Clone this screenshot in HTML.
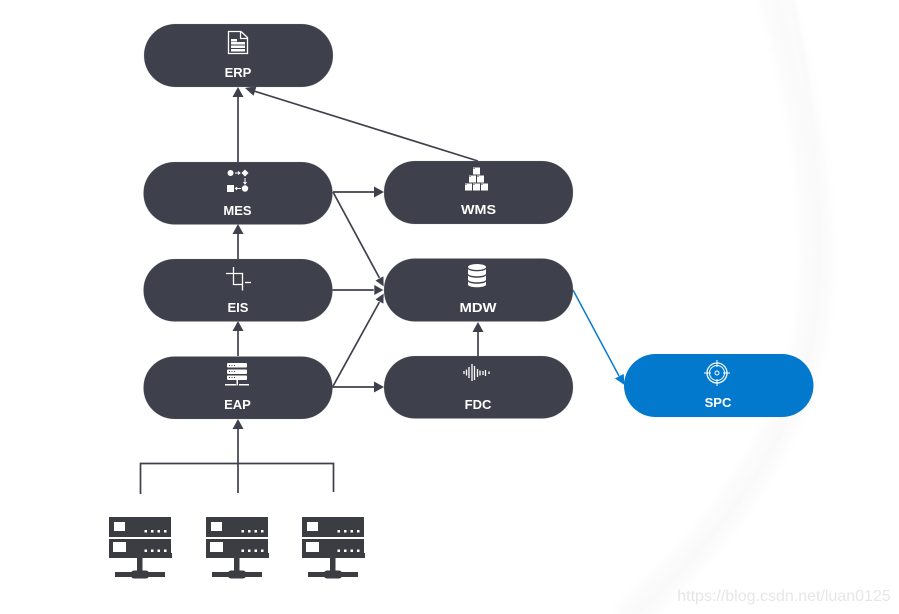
<!DOCTYPE html>
<html>
<head>
<meta charset="utf-8">
<style>
html,body{margin:0;padding:0;background:#fff}
svg{display:block}
text{font-family:"Liberation Sans",sans-serif;font-weight:700;font-size:13px;fill:#fff;text-anchor:middle}
</style>
</head>
<body>
<svg width="899" height="614" viewBox="0 0 899 614" xmlns="http://www.w3.org/2000/svg">
<defs>
<filter id="b" filterUnits="userSpaceOnUse" x="500" y="-50" width="450" height="720"><feGaussianBlur stdDeviation="6"/></filter>
<filter id="b2" filterUnits="userSpaceOnUse" x="500" y="-50" width="450" height="720"><feGaussianBlur stdDeviation="2"/></filter>
<g id="srv">
<rect x="0" y="0" width="62" height="20" fill="#3c3d42"/>
<rect x="0" y="22" width="62" height="19" fill="#3c3d42"/>
<rect x="62" y="36" width="1" height="5" fill="#3c3d42"/>
<rect x="5" y="5" width="11" height="9" fill="#fff"/>
<rect x="4" y="25" width="13" height="10" fill="#fff"/>
<g fill="#fff">
<rect x="35.500" y="13" width="2.500" height="2.500"/><rect x="42" y="13" width="2.500" height="2.500"/><rect x="48.500" y="13" width="2.500" height="2.500"/><rect x="55" y="13" width="2.500" height="2.500"/>
<rect x="35.500" y="32.500" width="2.500" height="2.500"/><rect x="42" y="32.500" width="2.500" height="2.500"/><rect x="48.500" y="32.500" width="2.500" height="2.500"/><rect x="55" y="32.500" width="2.500" height="2.500"/>
</g>
<rect x="28" y="41" width="5.500" height="15" fill="#3c3d42"/>
<rect x="6" y="55" width="50" height="5" fill="#3c3d42"/>
<rect x="22" y="53.500" width="18" height="8" rx="3" fill="#3c3d42"/>
</g>
</defs>

<!-- faint background swoosh -->
<g fill="none" stroke-linecap="butt">
<path d="M773 -10C805 100 822 200 815 300C805 420 730 530 625 620" stroke="#fafafa" stroke-width="28" filter="url(#b)"/>
<path d="M790 -10C815 110 825 210 817 310C806 420 735 525 640 610" stroke="#f8f8f8" stroke-width="3" filter="url(#b2)"/>
</g>

<!-- connectors -->
<g stroke="#3e414b" stroke-width="1.700" fill="none">
<path d="M238 162V96"/>
<path d="M478 161L254 91"/>
<path d="M238 259V233"/>
<path d="M238 356V330"/>
<path d="M238 493V428"/>
<path d="M333 192H376"/>
<path d="M333 192L380 279"/>
<path d="M332 290H376"/>
<path d="M332 388L380 301"/>
<path d="M332 387H376"/>
<path d="M478 356V331"/>
<path d="M140.500 494V463.500H333.500V492"/>
</g>
<g fill="#3e414b">
<path d="M238 87L232.500 97H243.500Z"/>
<path d="M245 88L256.500 86.200L253.500 95.800Z"/>
<path d="M238 224L232.500 234H243.500Z"/>
<path d="M238 321L232.500 331H243.500Z"/>
<path d="M238 419L232.500 429H243.500Z"/>
<path d="M384 192L374 186.500V197.500Z"/>
<path d="M384 290L374 284.500V295.500Z" stroke="#fff" stroke-width=".6"/>
<path d="M384 387L374 381.500V392.500Z"/>
<path d="M384 287L383.700 275.900L374.900 280.500Z" stroke="#fff" stroke-width=".6"/>
<path d="M384 293L383.700 304.100L374.900 299.500Z" stroke="#fff" stroke-width=".6"/>
<path d="M478 322L472.500 332H483.500Z"/>
</g>
<path d="M573 290L619 376" stroke="#0a7bcf" stroke-width="1.500" fill="none"/>
<path d="M624.500 385L623.700 373.900L614.900 378.500Z" fill="#0a7bcf"/>

<!-- pills -->
<g fill="#3e414b" stroke="#9a9ca3" stroke-opacity=".35" stroke-width=".6">
<rect x="144" y="24" width="189" height="63" rx="31.500"/>
<rect x="143.500" y="162" width="189" height="62.500" rx="31"/>
<rect x="143.500" y="259" width="189" height="62.500" rx="31"/>
<rect x="143.500" y="356.500" width="189" height="62.500" rx="31"/>
<rect x="384" y="161" width="189" height="63" rx="31"/>
<rect x="384" y="258.500" width="189" height="63" rx="31"/>
<rect x="384" y="356" width="189" height="62.500" rx="31"/>
</g>
<rect x="624" y="354" width="189.500" height="63" rx="31.500" fill="#0279cd"/>

<text x="238" y="77">ERP</text>
<text x="237.500" y="215">MES</text>
<text x="238" y="312">EIS</text>
<text x="237.500" y="409">EAP</text>
<text x="478.500" y="214" textLength="35" lengthAdjust="spacingAndGlyphs">WMS</text>
<text x="478" y="312" textLength="37" lengthAdjust="spacingAndGlyphs">MDW</text>
<text x="478" y="409">FDC</text>
<text x="718" y="407">SPC</text>

<!-- ERP icon -->
<path d="M228.500 31.500H241L247.500 37.500V53.500H228.500Z" fill="none" stroke="#fff" stroke-width="1.300"/>
<path d="M240.500 32V38.500H247" fill="none" stroke="#fff" stroke-width="1.200"/>
<g fill="#fff"><rect x="231" y="39" width="6" height="2.500"/><rect x="231" y="42" width="14" height="2.500"/><rect x="231" y="45.500" width="14" height="2.500"/><rect x="231" y="49" width="14" height="2.500"/></g>

<!-- MES icon -->
<g fill="#fff">
<circle cx="230.500" cy="173" r="3"/>
<path d="M245 169.500L248.500 173L245 176.500L241.500 173Z"/>
<rect x="227" y="185" width="7" height="7"/>
<circle cx="245" cy="188.500" r="3.200"/>
</g>
<g stroke="#fff" stroke-width="1" fill="none">
<path d="M235 173H240M238 171.500L240 173L238 174.500"/>
<path d="M245 178V184M243.500 182L245 184L246.500 182"/>
<path d="M235.500 188.500H241M237 187L235.500 188.500L237 190"/>
</g>

<!-- EIS icon -->
<g stroke="#fff" stroke-width="1.300" fill="none">
<path d="M226 273.500H233.500V284.500H243"/>
<path d="M233.500 267V273.500H242.500V290.500"/>
<path d="M245 282.500H251"/>
</g>

<!-- EAP icon -->
<g fill="#fff">
<rect x="227" y="363" width="20" height="4.500" rx="1"/>
<rect x="227" y="369.500" width="20" height="4.500" rx="1"/>
<rect x="227" y="375.500" width="20" height="4.500" rx="1"/>
<rect x="236.500" y="380" width="1.500" height="4"/>
<rect x="225" y="384" width="11" height="1.500"/>
<rect x="239" y="384" width="10" height="1.500"/>
<rect x="236.500" y="384" width="1.500" height="1.500"/>
</g>
<g fill="#3e414b">
<rect x="229" y="365" width="1" height="1"/><rect x="231.500" y="365" width="1" height="1"/><rect x="234" y="365" width="1" height="1"/>
<rect x="229" y="371" width="1" height="1"/><rect x="231.500" y="371" width="1" height="1"/><rect x="234" y="371" width="1" height="1"/>
<rect x="229" y="377" width="1" height="1"/><rect x="231.500" y="377" width="1" height="1"/><rect x="234" y="377" width="1" height="1"/>
</g>

<!-- WMS icon -->
<g fill="#fff">
<rect x="473" y="167.500" width="7" height="7"/>
<rect x="469" y="175.500" width="7" height="7"/>
<rect x="477" y="175.500" width="7" height="7"/>
<rect x="465" y="183.500" width="7" height="7"/>
<rect x="473" y="183.500" width="7" height="7"/>
<rect x="481" y="183.500" width="7" height="7"/>
</g>
<g fill="#3e414b">
<rect x="473.500" y="168" width="1" height="1"/><rect x="469.500" y="176" width="1" height="1"/><rect x="477.500" y="176" width="1" height="1"/>
<rect x="465.500" y="184" width="1" height="1"/><rect x="473.500" y="184" width="1" height="1"/><rect x="481.500" y="184" width="1" height="1"/>
</g>

<!-- MDW icon -->
<g fill="#fff">
<ellipse cx="477" cy="267" rx="9" ry="3"/>
<path d="M468 269C470 272 484 272 486 269V274C484 277 470 277 468 274Z"/>
<path d="M468 275.500C470 278.500 484 278.500 486 275.500V280C484 283 470 283 468 280Z"/>
<path d="M468 281.500C470 284.500 484 284.500 486 281.500V285C484 288 470 288 468 285Z"/>
</g>

<!-- FDC icon -->
<g stroke="#fff" stroke-width="1.300">
<path d="M464 371V374M466.500 369.500V375.500M469 367V378M472 364V381M474.500 366V380M477.500 369V377M480 370.500V375.500M483 371V375M485.500 370V376M489 371.500V374"/>
</g>

<!-- SPC icon -->
<g fill="none" stroke="#fff">
<circle cx="717" cy="373" r="10" stroke-width="1.300"/>
<circle cx="717" cy="373" r="7.500" stroke-width="1"/>
<circle cx="717" cy="373" r="2" stroke-width="1"/>
<path d="M717 360V367M717 379V386M704 373H711M723 373H730" stroke-width="1"/>
</g>

<!-- servers -->
<use href="#srv" x="109" y="517"/>
<use href="#srv" x="206" y="517"/>
<use href="#srv" x="302" y="517"/>

<!-- watermark -->
<text x="784" y="601" style="font-weight:400;font-size:16px;fill:#e6e6e6">https://blog.csdn.net/luan0125</text>
</svg>
</body>
</html>
